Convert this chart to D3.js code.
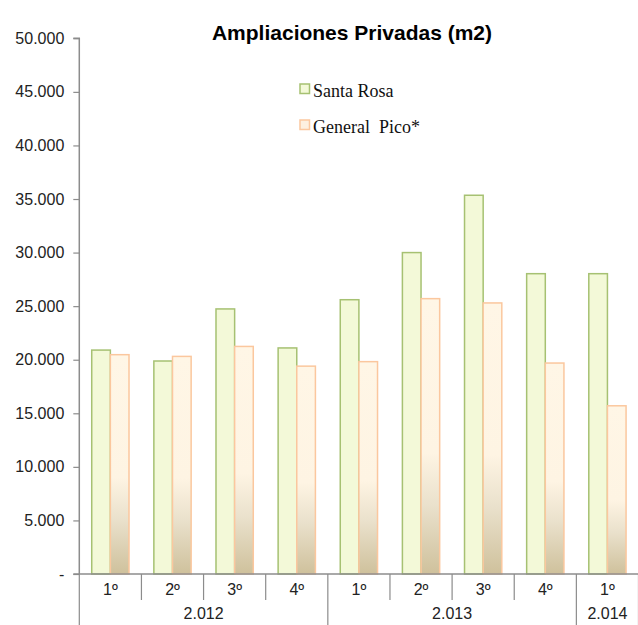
<!DOCTYPE html>
<html><head><meta charset="utf-8">
<script src="https://cdn.jsdelivr.net/npm/d3@7"></script>
<style>body{margin:0;background:#fff}svg{display:block}</style>
</head><body>
<script>
const quarters = ["1º","2º","3º","4º","1º","2º","3º","4º","1º"];
const years = [{label:"2.012", n:4},{label:"2.013", n:4},{label:"2.014", n:1}];
const santaRosa = [20900, 19880, 24740, 21100, 25600, 30000, 35350, 28030, 28030];
const generalPico = [20470, 20310, 21240, 19400, 19820, 25700, 25300, 19690, 15700];
const seriesNames = ["Santa Rosa", "General  Pico*"];
const yTicks = [0,5000,10000,15000,20000,25000,30000,35000,40000,45000,50000];

const W = 638, H = 625;
const svg = d3.select("body").append("svg").attr("width", W).attr("height", H);
const defs = svg.append("defs");
const grad = defs.append("linearGradient").attr("id","gp").attr("x1",0).attr("y1",0).attr("x2",0).attr("y2",1);
[[0,"#FFF6E6"],[0.56,"#FEF4E3"],[0.75,"#EAE1CC"],[1,"#CFC19C"]].forEach(([o,c])=>grad.append("stop").attr("offset",o).attr("stop-color",c));

const x0 = 79.3, x1 = 638.5, yTop = 38.3, yBot = 574;
const x = d3.scaleBand().domain(d3.range(quarters.length)).range([x0, x1]).paddingInner(0).paddingOuter(0);
const y = d3.scaleLinear().domain([0,50000]).range([yBot, yTop]);
const bw = x.bandwidth();
const fmt = v => v === 0 ? "-" : d3.format(",")(v).replace(/,/g, ".");

// title
svg.append("text").attr("x", 352).attr("y", 40).attr("text-anchor","middle")
  .attr("font-family","Liberation Sans, Arial, sans-serif").attr("font-weight","bold").attr("font-size",21)
  .text("Ampliaciones Privadas (m2)");

// y axis
const yAxis = d3.axisLeft(y).tickValues(yTicks).tickFormat(fmt).tickSize(6).tickPadding(9);
const gy = svg.append("g").attr("transform",`translate(${x0},0)`).call(yAxis);
gy.select(".domain").attr("stroke","#8c8c8c").attr("stroke-width",1.5).attr("d",`M-6,${yTop}H0V${yBot}`);
gy.selectAll(".tick line").attr("stroke","#8c8c8c").attr("stroke-width",1.2);
gy.selectAll(".tick text").attr("font-family","Liberation Sans, Arial, sans-serif").attr("font-size",16).attr("fill","#222");

// bars
const g = svg.append("g");
g.selectAll("rect.sr").data(santaRosa).join("rect").attr("class","sr")
  .attr("x",(d,i)=>x(i)+bw*0.2).attr("width",bw*0.3)
  .attr("y",d=>y(d)).attr("height",d=>yBot-y(d))
  .attr("fill","#F3F9D8").attr("stroke","#A6C172").attr("stroke-width",1.5);
g.selectAll("rect.gp").data(generalPico).join("rect").attr("class","gp")
  .attr("x",(d,i)=>x(i)+bw*0.5).attr("width",bw*0.3)
  .attr("y",d=>y(d)).attr("height",d=>yBot-y(d))
  .attr("fill","url(#gp)").attr("stroke","#FBC79E").attr("stroke-width",1.5);

// x axis
const gx = svg.append("g");
gx.append("line").attr("x1",x0-6).attr("x2",W).attr("y1",yBot).attr("y2",yBot).attr("stroke","#8c8c8c").attr("stroke-width",1.5);
const groupStarts = [];
let acc = 0; years.forEach(yr=>{groupStarts.push(acc); acc += yr.n;}); groupStarts.push(acc);
d3.range(quarters.length+1).forEach(i=>{
  const xx = i < quarters.length ? x(i) : x1;
  const isGroup = groupStarts.includes(i);
  gx.append("line").attr("x1",xx).attr("x2",xx).attr("y1",yBot).attr("y2",isGroup?H:600)
    .attr("stroke","#8c8c8c").attr("stroke-width",1.2);
});
gx.selectAll("text.q").data(quarters).join("text").attr("class","q")
  .attr("x",(d,i)=>x(i)+bw/2).attr("y",595).attr("text-anchor","middle")
  .attr("font-family","Liberation Sans, Arial, sans-serif").attr("font-size",16).attr("fill","#222").text(d=>d);
years.forEach((yr,k)=>{
  const a = x(groupStarts[k]);
  const b = groupStarts[k+1] < quarters.length ? x(groupStarts[k+1]) : x1;
  gx.append("text").attr("x",(a+b)/2).attr("y",619).attr("text-anchor","middle")
    .attr("font-family","Liberation Sans, Arial, sans-serif").attr("font-size",16).attr("fill","#222").text(yr.label);
});

// legend
const leg = svg.append("g");
const legStrokes = ["#A6C172","#FBC79E"];
seriesNames.forEach((nm,i)=>{
  const yy = 84 + i*36;
  leg.append("rect").attr("x",300).attr("y",yy).attr("width",9.5).attr("height",9.5)
    .attr("fill",i===0?"#F3F9D8":"#FDF0E0").attr("stroke",legStrokes[i]).attr("stroke-width",1.5);
  leg.append("text").attr("x",313).attr("y",yy+13).attr("font-family","Liberation Serif, Times New Roman, serif")
    .attr("font-size",18).attr("fill","#111").style("white-space","pre").attr("xml:space","preserve").text(nm);
});
</script>
</body></html>
